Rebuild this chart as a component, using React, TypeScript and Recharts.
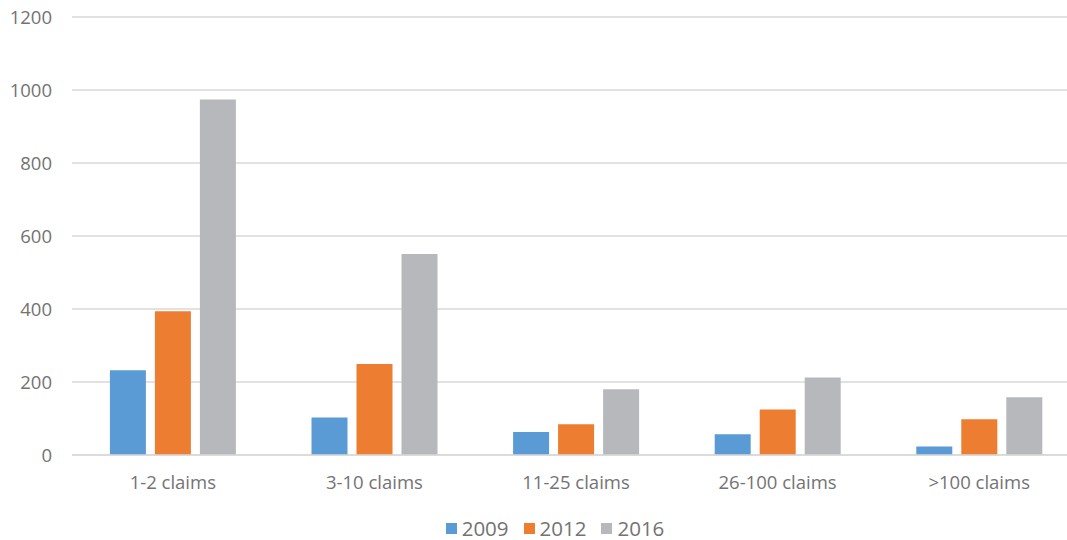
import React from "react";
import { Bar, BarChart, CartesianGrid, Legend, XAxis, YAxis } from "recharts";

const categories = ["1-2 claims", "3-10 claims", "11-25 claims", "26-100 claims", ">100 claims"];
const series2009 = [232, 103, 63, 57, 23];
const series2012 = [394, 249, 84, 125, 98];
const series2016 = [974, 551, 180, 212, 158];
const yTicks = [0, 200, 400, 600, 800, 1000, 1200];

const seriesInfo = [
    { key: "2009", color: "#5b9bd5" },
    { key: "2012", color: "#ed7d31" },
    { key: "2016", color: "#b7b8bb" },
];

const data = categories.map((name, i) => ({
    name,
    "2009": series2009[i],
    "2012": series2012[i],
    "2016": series2016[i],
}));

const FONT = "'Open Sans', Lato, sans-serif";
const TEXT = "#737373";

const renderLegend = () => (
    <div style={{ display: "flex", justifyContent: "center", paddingLeft: 30, fontFamily: FONT, fontSize: 20.5, lineHeight: "28px", color: TEXT }}>
        {seriesInfo.map((s) => (
            <div key={s.key} style={{ display: "flex", alignItems: "center", margin: "0 7.5px" }}>
                <span style={{ width: 11, height: 11, background: s.color, display: "inline-block", marginRight: 5 }} />
                <span>{s.key}</span>
            </div>
        ))}
    </div>
);

const App = () => {
    return (
        <div style={{ position: "absolute", left: 0, top: 0, width: 1067, height: 560, overflow: "hidden", background: "#fff" }}>
            <BarChart
                width={1084}
                height={560}
                data={data}
                margin={{ top: 17, right: 4, bottom: 0, left: 0 }}
                barCategoryGap="18.8%"
                barGap={9}
            >
                <CartesianGrid vertical={false} stroke="#d9d9d9" strokeWidth={1.3} />
                <XAxis
                    dataKey="name"
                    height={77}
                    tickLine={false}
                    axisLine={{ stroke: "#d9d9d9", strokeWidth: 1.3 }}
                    tickMargin={15}
                    tick={{ fill: TEXT, fontSize: 18.5, fontFamily: FONT }}
                />
                <YAxis
                    width={72}
                    domain={[0, 1200]}
                    ticks={yTicks}
                    tickLine={false}
                    axisLine={false}
                    tickMargin={14}
                    tick={{ fill: TEXT, fontSize: 18.5, fontFamily: FONT }}
                />
                <Legend
                    verticalAlign="bottom"
                    content={renderLegend}
                    wrapperStyle={{ top: 514, bottom: "auto", height: 28 }}
                />
                {seriesInfo.map((s) => (
                    <Bar key={s.key} dataKey={s.key} fill={s.color} isAnimationActive={false} />
                ))}
            </BarChart>
        </div>
    );
};

export default App;
